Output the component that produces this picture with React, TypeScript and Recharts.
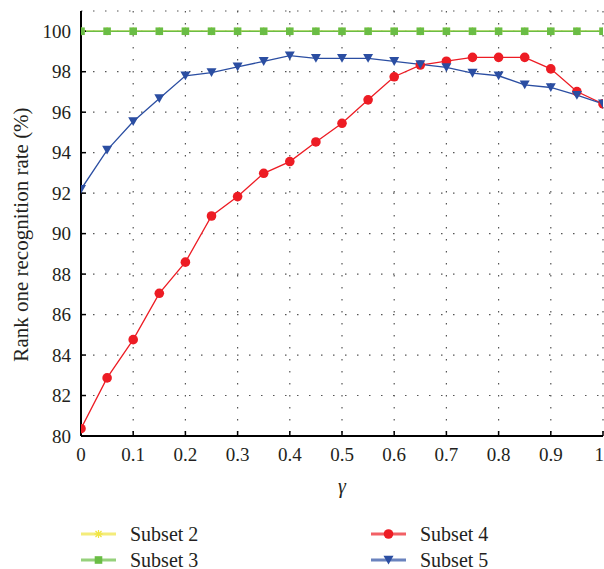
import { CartesianGrid, Legend, Line, LineChart, XAxis, YAxis } from "recharts";

const gammas = [0, 0.05, 0.1, 0.15, 0.2, 0.25, 0.3, 0.35, 0.4, 0.45, 0.5, 0.55, 0.6, 0.65, 0.7, 0.75, 0.8, 0.85, 0.9, 0.95, 1];
const subset2 = [100, 100, 100, 100, 100, 100, 100, 100, 100, 100, 100, 100, 100, 100, 100, 100, 100, 100, 100, 100, 100];
const subset3 = [100, 100, 100, 100, 100, 100, 100, 100, 100, 100, 100, 100, 100, 100, 100, 100, 100, 100, 100, 100, 100];
const subset4 = [80.36, 82.87, 84.76, 87.05, 88.59, 90.87, 91.83, 92.98, 93.56, 94.53, 95.45, 96.61, 97.75, 98.33, 98.52, 98.71, 98.71, 98.71, 98.14, 97.02, 96.41];
const subset5 = [92.19, 94.13, 95.54, 96.68, 97.8, 97.96, 98.24, 98.51, 98.79, 98.66, 98.66, 98.66, 98.51, 98.36, 98.21, 97.93, 97.8, 97.35, 97.22, 96.84, 96.41];

const xTicks = [0, 0.1, 0.2, 0.3, 0.4, 0.5, 0.6, 0.7, 0.8, 0.9, 1];
const yTicks = [80, 82, 84, 86, 88, 90, 92, 94, 96, 98, 100];

const YELLOW = "#f0e442";
const GREEN = "#6abd45";
const RED = "#ed1c24";
const BLUE = "#2b4ea2";
const FONT = "'Liberation Serif', 'Times New Roman', Times, Tinos, 'DejaVu Serif', 'Noto Serif', serif";

const data = gammas.map((g, i) => ({
  gamma: g,
  s2: subset2[i],
  s3: subset3[i],
  s4: subset4[i],
  s5: subset5[i],
}));

function StarDot({ cx, cy }: any) {
  const r = 4;
  return (
    <g stroke={YELLOW} strokeWidth={1.2}>
      <line x1={cx - r} y1={cy} x2={cx + r} y2={cy} />
      <line x1={cx} y1={cy - r} x2={cx} y2={cy + r} />
      <line x1={cx - 3} y1={cy - 3} x2={cx + 3} y2={cy + 3} />
      <line x1={cx - 3} y1={cy + 3} x2={cx + 3} y2={cy - 3} />
    </g>
  );
}

function SquareDot({ cx, cy }: any) {
  return <rect x={cx - 3.8} y={cy - 3.8} width={7.6} height={7.6} fill={GREEN} />;
}

function CircleDot({ cx, cy }: any) {
  return <circle cx={cx} cy={cy} r={4.8} fill={RED} />;
}

function TriangleDot({ cx, cy }: any) {
  return (
    <polygon
      points={`${cx - 5},${cy - 4.3} ${cx + 5},${cy - 4.3} ${cx},${cy + 4.5}`}
      fill={BLUE}
    />
  );
}

const legendItems = [
  { name: "Subset 2", color: YELLOW, Dot: StarDot, left: 81, top: 34 },
  { name: "Subset 3", color: GREEN, Dot: SquareDot, left: 81, top: 60 },
  { name: "Subset 4", color: RED, Dot: CircleDot, left: 371, top: 34 },
  { name: "Subset 5", color: BLUE, Dot: TriangleDot, left: 371, top: 60 },
];

function LegendContent() {
  return (
    <div style={{ position: "relative", width: 604, height: 69 }}>
      {legendItems.map(({ name, color, Dot, left, top }) => (
        <div
          key={name}
          style={{
            position: "absolute",
            left,
            top: top - 12,
            height: 24,
            display: "flex",
            alignItems: "center",
          }}
        >
          <svg width={36} height={24}>
            <line x1={0} y1={12} x2={35} y2={12} stroke={color} strokeWidth={3} strokeOpacity={0.7} />
            <Dot cx={17.5} cy={12} />
          </svg>
          <span style={{ marginLeft: 13, fontFamily: FONT, fontSize: 20, color: "#231f20" }}>{name}</span>
        </div>
      ))}
    </div>
  );
}

function YLabel({ viewBox }: any) {
  const cx = 21;
  const cy = viewBox.y + viewBox.height / 2 + 11;
  return (
    <text
      x={cx}
      y={cy}
      transform={`rotate(-90, ${cx}, ${cy})`}
      textAnchor="middle"
      dominantBaseline="central"
      fontFamily={FONT}
      fontSize={21}
      fill="#231f20"
    >
      Rank one recognition rate (%)
    </text>
  );
}

const tickStyle = { fontFamily: FONT, fontSize: 19, fill: "#231f20" };

export default function App() {
  return (
    <div style={{ position: "absolute", left: 0, top: 0, background: "#fff" }}>
      <LineChart width={604} height={569} data={data} margin={{ top: 11, right: 1, left: 0, bottom: 0 }}>
        <CartesianGrid stroke="#555" strokeDasharray="1.5 10.5" strokeWidth={1.2} />
        <XAxis
          dataKey="gamma"
          type="number"
          domain={[0, 1]}
          ticks={xTicks}
          allowDataOverflow
          height={64}
          tickSize={-5}
          tickMargin={17}
          tickLine={{ stroke: "#000", strokeWidth: 1.5 }}
          axisLine={{ stroke: "#000", strokeWidth: 2 }}
          tick={tickStyle}
          tickFormatter={(v: number) => String(v)}
          label={{
            value: "γ",
            position: "insideBottom",
            offset: 7,
            style: { fontFamily: FONT, fontSize: 20, fontStyle: "italic", fill: "#231f20" },
          }}
        />
        <XAxis
          xAxisId="top"
          orientation="top"
          type="number"
          domain={[0, 1]}
          ticks={xTicks}
          allowDataOverflow
          mirror
          height={0}
          tickSize={5}
          tickLine={{ stroke: "#222", strokeWidth: 1.5 }}
          axisLine={{ stroke: "#333", strokeWidth: 1 }}
          tick={false}
        />
        <YAxis
          type="number"
          domain={[80, 101]}
          ticks={yTicks}
          allowDataOverflow
          width={81}
          tickSize={-5}
          tickMargin={15}
          tickLine={{ stroke: "#000", strokeWidth: 1.5 }}
          axisLine={{ stroke: "#000", strokeWidth: 2 }}
          tick={tickStyle}
          label={<YLabel />}
        />
        <YAxis
          yAxisId="right"
          orientation="right"
          type="number"
          domain={[80, 101]}
          ticks={yTicks}
          allowDataOverflow
          mirror
          width={0}
          tickSize={5}
          tickLine={{ stroke: "#222", strokeWidth: 1.5 }}
          axisLine={{ stroke: "#888", strokeWidth: 1 }}
          tick={false}
        />
        <Legend
          verticalAlign="bottom"
          align="left"
          content={<LegendContent />}
          wrapperStyle={{ left: 0, bottom: 0, width: 604, height: 69 }}
        />
        <Line dataKey="s2" name="Subset 2" stroke={YELLOW} strokeWidth={1.3} dot={<StarDot />} isAnimationActive={false} />
        <Line dataKey="s3" name="Subset 3" stroke={GREEN} strokeWidth={1.5} dot={<SquareDot />} isAnimationActive={false} />
        <Line dataKey="s4" name="Subset 4" stroke={RED} strokeWidth={1.3} dot={<CircleDot />} isAnimationActive={false} />
        <Line dataKey="s5" name="Subset 5" stroke={BLUE} strokeWidth={1.3} dot={<TriangleDot />} isAnimationActive={false} />
      </LineChart>
    </div>
  );
}
